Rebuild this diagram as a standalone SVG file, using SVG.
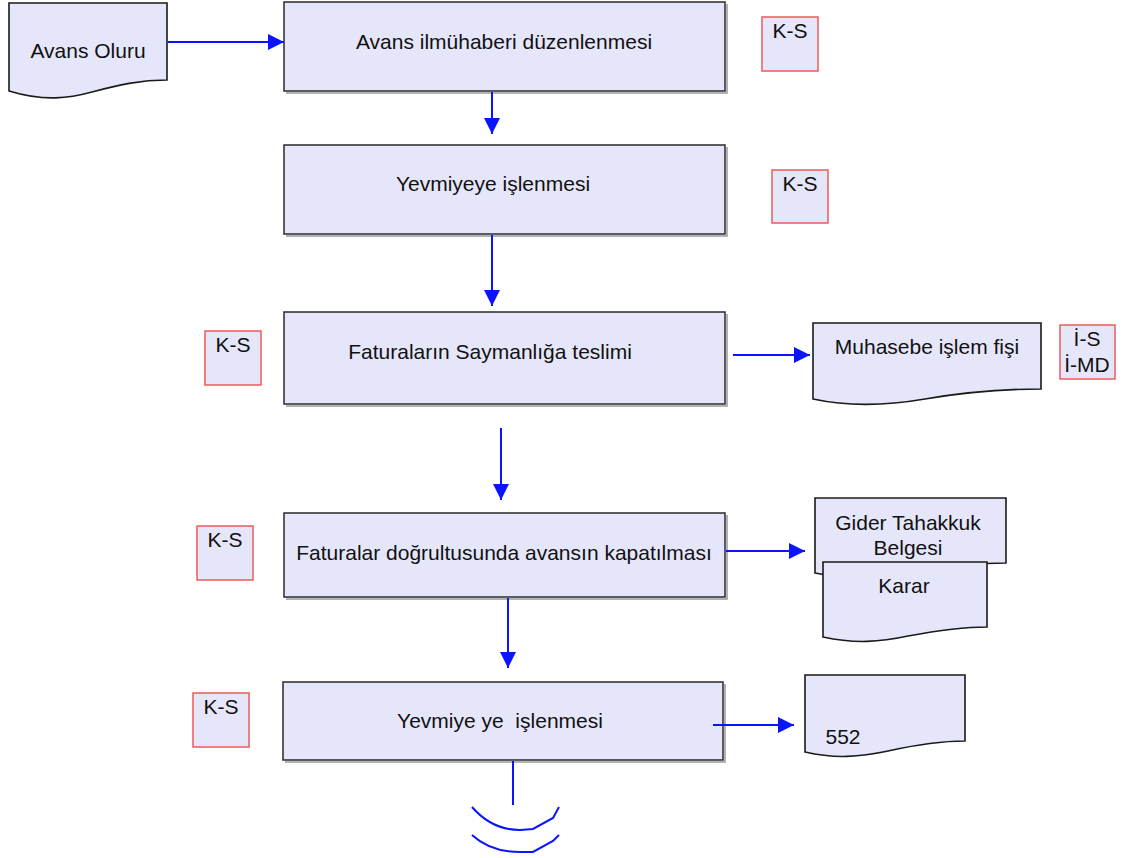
<svg xmlns="http://www.w3.org/2000/svg" width="1132" height="858" viewBox="0 0 1132 858">
<style>
.box{fill:#e6e6fa;stroke:#2a2a2a;stroke-width:1.5}
.sh{fill:none;stroke:#999;stroke-width:1.5}
.tag{fill:#e6e6fa;stroke:#f05a5a;stroke-width:1.5}
.doc{fill:#e6e6fa;stroke:#1a1a1a;stroke-width:1.6}
.t{font-family:"Liberation Sans",Arial,sans-serif;font-size:21px;fill:#111;text-anchor:middle}
.k{font-family:"Liberation Sans",Arial,sans-serif;font-size:21px;fill:#111;text-anchor:middle}
.c{stroke:#0a14ff;stroke-width:2;fill:none}
</style>
<defs>
<marker id="ah" viewBox="0 0 16 16" refX="16" refY="8" markerWidth="16" markerHeight="16" markerUnits="userSpaceOnUse" orient="auto">
<path d="M0,0 L16,8 L0,16 Z" fill="#0a14ff"/>
</marker>
</defs>
<rect width="1132" height="858" fill="#fff"/>

<g id="avans-oluru">
<path class="doc" d="M9,3 H167 V80 C140,80 118,85 92,92 C70,98 45,102 9,91 Z"/>
<text class="t" x="88" y="58">Avans Oluru</text>
</g>

<g id="step1">
<polyline class="sh" points="286,93 727,93 727,4"/>
<rect class="box" x="284" y="2" width="441" height="89"/>
<text class="t" x="504" y="49">Avans ilmühaberi düzenlenmesi</text>
</g>
<g id="ks1">
<rect class="tag" x="762" y="17" width="56" height="54"/>
<text class="k" x="790" y="38">K-S</text>
</g>

<g id="step2">
<polyline class="sh" points="286,236 727,236 727,147"/>
<rect class="box" x="284" y="145" width="441" height="89"/>
<text class="t" x="493" y="191">Yevmiyeye işlenmesi</text>
</g>
<g id="ks2">
<rect class="tag" x="772" y="170" width="56" height="53"/>
<text class="k" x="800" y="191">K-S</text>
</g>

<g id="step3">
<polyline class="sh" points="286,406 727,406 727,314"/>
<rect class="box" x="284" y="312" width="441" height="92"/>
<text class="t" x="490" y="359">Faturaların Saymanlığa teslimi</text>
</g>
<g id="ks3">
<rect class="tag" x="205" y="331" width="56" height="54"/>
<text class="k" x="233" y="352">K-S</text>
</g>
<g id="muhasebe">
<path class="doc" d="M813,323 H1041 V389 C1000,389 960,393 925,399 C890,405 850,407 813,399 Z"/>
<text class="t" x="927" y="354">Muhasebe işlem fişi</text>
</g>
<g id="is-imd">
<rect class="tag" x="1060" y="325" width="55" height="54"/>
<text class="k" x="1087" y="346">İ-S</text>
<text class="k" x="1087" y="372">İ-MD</text>
</g>

<g id="step4">
<polyline class="sh" points="286,599 727,599 727,515"/>
<rect class="box" x="284" y="513" width="441" height="84"/>
<text class="t" x="504" y="560">Faturalar doğrultusunda avansın kapatılması</text>
</g>
<g id="ks4">
<rect class="tag" x="197" y="526" width="56" height="54"/>
<text class="k" x="225" y="547">K-S</text>
</g>
<g id="gider">
<path class="doc" d="M815,498 H1006 V563 C975,563 945,567 915,572 C885,578 850,580 815,573 Z"/>
<text class="t" x="908" y="530">Gider Tahakkuk</text>
<text class="t" x="908" y="555">Belgesi</text>
</g>
<g id="karar">
<path class="doc" d="M823,562 H987 V627 C960,627 935,631 908,636 C880,642 855,644 823,637 Z"/>
<text class="t" x="904" y="593">Karar</text>
</g>

<g id="step5">
<polyline class="sh" points="285,762 725,762 725,684"/>
<rect class="box" x="283" y="682" width="440" height="78"/>
<text class="t" x="500" y="728" xml:space="preserve">Yevmiye ye  işlenmesi</text>
</g>
<g id="ks5">
<rect class="tag" x="193" y="693" width="56" height="54"/>
<text class="k" x="221" y="714">K-S</text>
</g>
<g id="doc552">
<path class="doc" d="M805,675 H965 V741 C940,741 915,745 888,751 C860,757 835,759 805,752 Z"/>
<text class="t" x="843" y="744">552</text>
</g>

<g id="connectors">
<line class="c" x1="168" y1="42" x2="284" y2="42" marker-end="url(#ah)"/>
<line class="c" x1="492" y1="92" x2="492" y2="134" marker-end="url(#ah)"/>
<line class="c" x1="492" y1="235" x2="492" y2="306" marker-end="url(#ah)"/>
<line class="c" x1="733" y1="355" x2="810" y2="355" marker-end="url(#ah)"/>
<line class="c" x1="501" y1="428" x2="501" y2="500" marker-end="url(#ah)"/>
<line class="c" x1="726" y1="551" x2="805" y2="551" marker-end="url(#ah)"/>
<line class="c" x1="508" y1="598" x2="508" y2="668" marker-end="url(#ah)"/>
<line class="c" x1="713" y1="725" x2="794" y2="725" marker-end="url(#ah)"/>
<line class="c" x1="513" y1="761" x2="513" y2="805"/>
<path class="c" d="M472,807 C485,822 500,830 520,830 L533,829 L553,818 L559,807"/>
<path class="c" d="M472,835 C485,847 500,852 520,852 L533,852 L553,841 L559,835"/>
</g>
</svg>
